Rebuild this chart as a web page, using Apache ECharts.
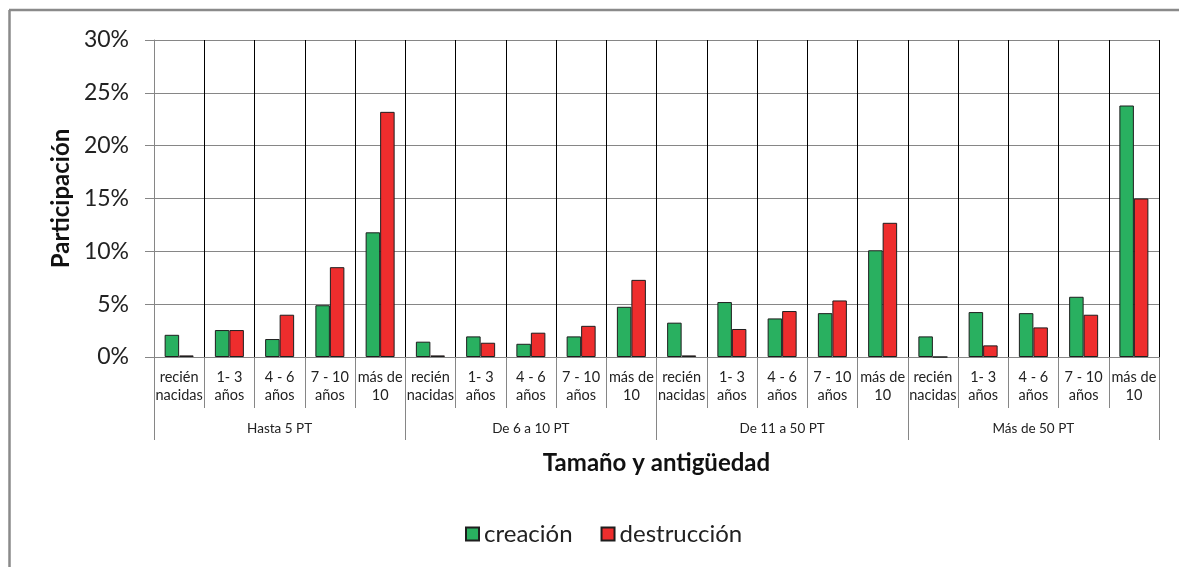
<!DOCTYPE html>
<html>
<head>
<meta charset="utf-8">
<script src="https://cdn.jsdelivr.net/npm/echarts@6/dist/echarts.min.js"></script>
<style>
html,body{margin:0;padding:0;background:#fff;}
#chart{width:1179px;height:567px;}
</style>
</head>
<body>
<div id="chart"></div>
<script>
const subCategories = [
  'recién\nnacidas','1- 3\naños','4 - 6\naños','7 - 10\naños','más de\n10',
  'recién\nnacidas','1- 3\naños','4 - 6\naños','7 - 10\naños','más de\n10',
  'recién\nnacidas','1- 3\naños','4 - 6\naños','7 - 10\naños','más de\n10',
  'recién\nnacidas','1- 3\naños','4 - 6\naños','7 - 10\naños','más de\n10'
];
const groups = ['Hasta 5 PT','De 6 a 10 PT','De 11 a 50 PT','Más de 50 PT'];
const creacion = [
  2.1, 2.55, 1.7, 4.9, 11.8,
  1.45, 1.95, 1.25, 1.95, 4.75,
  3.25, 5.2, 3.65, 4.15, 10.1,
  1.95, 4.25, 4.15, 5.7, 23.8
];
const destruccion = [
  0.15, 2.55, 4.0, 8.5, 23.2,
  0.15, 1.35, 2.3, 2.95, 7.3,
  0.15, 2.65, 4.35, 5.35, 12.7,
  0, 1.1, 2.8, 4.0, 15.0
];
const yTicks = {min: 0, max: 30, interval: 5};

const FONT = 'Lato, "Open Sans", sans-serif';
const chart = echarts.init(document.getElementById('chart'), null, {renderer: 'canvas'});
chart.setOption({
  animation: false,
  backgroundColor: '#ffffff',
  textStyle: {fontFamily: FONT, color: '#222'},
  graphic: [
    {type: 'line', shape: {x1: 9, y1: 10, x2: 1179, y2: 10}, style: {stroke: '#8a8a8a', lineWidth: 2.5}},
    {type: 'line', shape: {x1: 9.5, y1: 10, x2: 9.5, y2: 567}, style: {stroke: '#8a8a8a', lineWidth: 2.5}}
  ],
  grid: {left: 154, right: 20, top: 40, bottom: 210, containLabel: false},
  legend: {
    left: 460, top: 517,
    itemWidth: 13, itemHeight: 13, itemGap: 28,
    textStyle: {fontSize: 24, color: '#222', fontFamily: FONT},
    data: [
      {name: 'creación', icon: 'rect'},
      {name: 'destrucción', icon: 'rect'}
    ]
  },
  xAxis: [
    {
      type: 'category',
      data: subCategories,
      position: 'bottom',
      axisLine: {show: true, lineStyle: {color: '#868686', width: 1}},
      axisTick: {show: true, length: 51, lineStyle: {color: '#868686'}},
      splitLine: {show: true, lineStyle: {color: '#000', width: 1}},
      axisLabel: {interval: 0, fontSize: 14.5, lineHeight: 18, margin: 11, color: '#222', fontFamily: FONT}
    },
    {
      type: 'category',
      data: groups,
      position: 'bottom',
      offset: 0,
      axisLine: {show: false},
      axisTick: {show: true, length: 83, lineStyle: {color: '#868686'}},
      splitLine: {show: false},
      axisLabel: {interval: 0, fontSize: 13.5, margin: 65, color: '#222', fontFamily: FONT},
      name: 'Tamaño y antigüedad',
      nameLocation: 'middle',
      nameGap: 94,
      nameTextStyle: {fontSize: 24, fontWeight: 'bold', color: '#111', fontFamily: FONT}
    }
  ],
  yAxis: {
    type: 'value',
    min: yTicks.min, max: yTicks.max, interval: yTicks.interval,
    axisLine: {show: true, lineStyle: {color: '#868686'}},
    axisTick: {show: true, length: 9, lineStyle: {color: '#868686'}},
    splitLine: {show: true, lineStyle: {color: '#868686', width: 1}},
    axisLabel: {formatter: '{value}%', fontSize: 23, margin: 25, color: '#222', fontFamily: FONT},
    name: 'Participación',
    nameLocation: 'middle',
    nameGap: 81,
    nameRotate: 90,
    nameTextStyle: {fontSize: 24, fontWeight: 'bold', color: '#111', fontFamily: FONT}
  },
  series: [
    {
      name: 'creación', type: 'bar', xAxisIndex: 0, data: creacion,
      barWidth: 14.5, barGap: '0%',
      itemStyle: {color: '#29B060', borderColor: '#1e1e1e', borderWidth: 1}
    },
    {
      name: 'destrucción', type: 'bar', xAxisIndex: 0, data: destruccion,
      barWidth: 14.5, barGap: '0%',
      itemStyle: {color: '#EE2D2D', borderColor: '#1e1e1e', borderWidth: 1}
    }
  ]
});
</script>
</body>
</html>
